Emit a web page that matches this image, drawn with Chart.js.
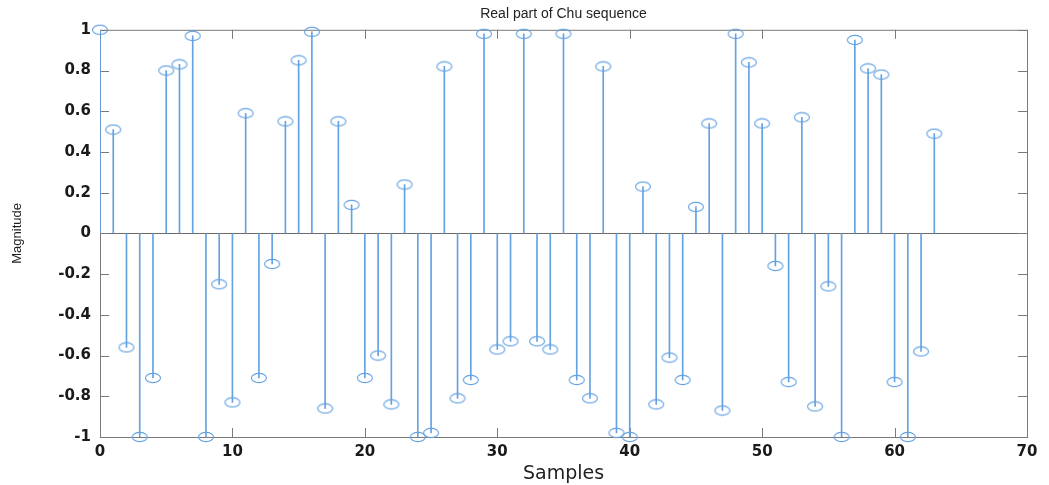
<!DOCTYPE html>
<html>
<head>
<meta charset="utf-8">
<title>Real part of Chu sequence</title>
<script src="https://cdn.jsdelivr.net/npm/chart.js@4.4.0/dist/chart.umd.min.js"></script>
<style>
  body { margin: 0; background: #fff; }
  #wrap { width: 1049px; height: 485px; position: relative; }
</style>
</head>
<body>
<div id="wrap"><canvas id="chuChart"></canvas></div>
<script>
// real part of the 64-sample Chu sequence
const realPart = [
  1.00, 0.51, -0.56, -1.00, -0.71, 0.80, 0.83, 0.97,
  -1.00, -0.25, -0.83, 0.59, -0.71, -0.15, 0.55, 0.85,
  0.99, -0.86, 0.55, 0.14, -0.71, -0.60, -0.84, 0.24,
  -1.00, -0.98, 0.82, -0.81, -0.72, 0.98, -0.57, -0.53,
  0.98, -0.53, -0.57, 0.98, -0.72, -0.81, 0.82, -0.98,
  -1.00, 0.23, -0.84, -0.61, -0.72, 0.13, 0.54, -0.87,
  0.98, 0.84, 0.54, -0.16, -0.73, 0.57, -0.85, -0.26,
  -1.00, 0.95, 0.81, 0.78, -0.73, -1.00, -0.58, 0.49
];
const samples = Array.from(realPart, (v, i) => i);
const xTicks = [0, 10, 20, 30, 40, 50, 60, 70];
const yTicks = [-1, -0.8, -0.6, -0.4, -0.2, 0, 0.2, 0.4, 0.6, 0.8, 1];

const stemColor = '#64a2e2';
const frameColor = '#7a7a7a';
const tickFont = { family: 'DejaVu Sans', size: 15, weight: 'bold' };

// open ellipse used as the stem head
const marker = document.createElement('canvas');
marker.width = 18;
marker.height = 12;
(function () {
  const c = marker.getContext('2d');
  c.strokeStyle = stemColor;
  c.lineWidth = 1.1;
  c.beginPath();
  c.ellipse(9, 6, 7.5, 4.6, 0, 0, Math.PI * 2);
  c.stroke();
})();

const points = samples.map((x, i) => ({ x: x, y: realPart[i] }));

// box around the plot plus inward tick marks on all four sides
const boxTicks = {
  id: 'boxTicks',
  beforeDatasetsDraw(chart) {
    const { ctx, chartArea: a, scales } = chart;
    const len = 9;
    ctx.save();
    ctx.strokeStyle = frameColor;
    ctx.lineWidth = 1;
    ctx.strokeRect(a.left + 0.5, a.top + 0.5, a.right - a.left, a.bottom - a.top);
    ctx.beginPath();
    xTicks.forEach(t => {
      const px = Math.round(scales.x.getPixelForValue(t)) + 0.5;
      ctx.moveTo(px, a.bottom); ctx.lineTo(px, a.bottom - len);
      ctx.moveTo(px, a.top); ctx.lineTo(px, a.top + len);
    });
    yTicks.forEach(t => {
      const py = Math.round(scales.y.getPixelForValue(t)) + 0.5;
      ctx.moveTo(a.left, py); ctx.lineTo(a.left + len, py);
      ctx.moveTo(a.right, py); ctx.lineTo(a.right - len, py);
    });
    ctx.stroke();
    ctx.restore();
  }
};

new Chart(document.getElementById('chuChart'), {
  type: 'bar',
  data: {
    datasets: [
      {
        type: 'scatter',
        data: points,
        pointStyle: marker,
        pointRadius: 7,
        showLine: false,
        clip: false
      },
      {
        type: 'bar',
        data: points,
        backgroundColor: stemColor,
        barThickness: 1,
        borderWidth: 0
      }
    ]
  },
  options: {
    responsive: true,
    maintainAspectRatio: false,
    animation: false,
    layout: { padding: { left: 0, right: 22, top: 0, bottom: 0 } },
    plugins: {
      legend: { display: false },
      tooltip: { enabled: false },
      title: {
        display: true,
        text: 'Real part of Chu sequence',
        fullSize: false,
        color: '#222',
        font: { family: 'Liberation Sans', size: 14, weight: 'normal' },
        padding: { top: 6, bottom: 7 }
      }
    },
    scales: {
      x: {
        type: 'linear',
        min: 0,
        max: 70,
        offset: false,
        afterBuildTicks: s => { s.ticks = xTicks.map(v => ({ value: v })); },
        afterFit: s => { s.height = 48; },
        grid: { display: false, drawTicks: false },
        border: { display: false },
        ticks: {
          padding: 6,
          color: '#1a1a1a',
          font: tickFont
        },
        title: {
          display: true,
          text: 'Samples',
          color: '#222',
          font: { family: 'DejaVu Sans', size: 19 },
          padding: { top: 0, bottom: 0 }
        }
      },
      y: {
        min: -1,
        max: 1,
        afterBuildTicks: s => { s.ticks = yTicks.map(v => ({ value: v })); },
        afterFit: s => { s.width = 100; },
        grid: {
          drawTicks: false,
          color: c => (c.tick && c.tick.value === 0 ? '#6a6a6a' : 'rgba(0,0,0,0)'),
          lineWidth: 1
        },
        border: { display: false },
        ticks: {
          padding: 9,
          color: '#1a1a1a',
          font: tickFont,
          callback: v => String(Number(v.toFixed(1)))
        },
        title: {
          display: true,
          text: 'Magnitude',
          color: '#222',
          font: { family: 'Liberation Sans', size: 13 },
          padding: { top: 10, bottom: 0 }
        }
      }
    }
  },
  plugins: [boxTicks]
});
</script>
</body>
</html>
